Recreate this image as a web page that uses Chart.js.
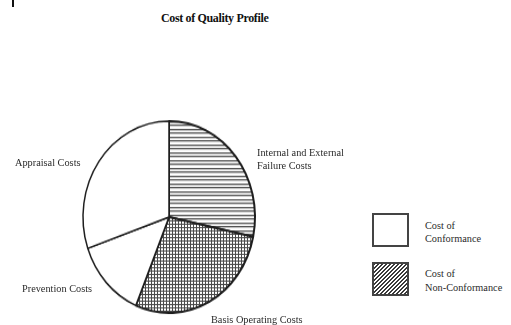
<!DOCTYPE html>
<html>
<head>
<meta charset="utf-8">
<script src="https://cdn.jsdelivr.net/npm/chart.js"></script>
<style>
    html, body { margin: 0; padding: 0; background: #fff; }
    #wrap { position: relative; width: 511px; height: 325px; overflow: hidden; background: #fff; font-family: 'Liberation Serif', 'Times New Roman', serif; color: #2b2b2b; }
    #pie { position: absolute; left: 79px; top: 127px; transform: scaleY(1.115); transform-origin: 50% 50%; }
    .lbl { position: absolute; font-size: 10.3px; line-height: 13px; white-space: nowrap; }
    #title { position: absolute; left: 161px; top: 11px; font-size: 12px; font-weight: bold; line-height: 14px; color: #111; letter-spacing: -0.35px; white-space: nowrap; }
    .box { position: absolute; left: 372px; width: 37px; height: 34px; box-sizing: border-box; border: 2px solid #444; background: #fff; }
    #box2 { background: repeating-linear-gradient(135deg, #3a3a3a 0 1.2px, #fff 1.2px 2.8px); }
    #mark { position: absolute; left: 12px; top: 0; width: 2px; height: 7px; background: #111; }
</style>
</head>
<body>
<div id="wrap">
    <div id="mark"></div>
    <div id="title"></div>
    <canvas id="pie" width="180" height="180"></canvas>
    <div class="lbl" id="lblInternal" style="left:257px; top:145.5px;"></div>
    <div class="lbl" id="lblBasis" style="left:211px; top:312.5px;"></div>
    <div class="lbl" id="lblPrevention" style="left:22px; top:281.5px;"></div>
    <div class="lbl" id="lblAppraisal" style="left:15px; top:155.5px;"></div>
    <div class="box" id="box1" style="top:213px;"></div>
    <div class="box" id="box2" style="top:262px;"></div>
    <div class="lbl" id="leg1" style="left:425px; top:218.5px;"></div>
    <div class="lbl" id="leg2" style="left:425px; top:266.5px; line-height:14px;"></div>
</div>
<script>
const chartTitle = 'Cost of Quality Profile';
// clockwise from 12 o'clock
const segmentLabels = ['Internal and External\nFailure Costs', 'Basis Operating Costs', 'Prevention Costs', 'Appraisal Costs'];
const segmentValues = [28.3, 28.0, 13.4, 30.3];
const legendLabels = ['Cost of\nConformance', 'Cost of\nNon-Conformance'];

document.getElementById('title').textContent = chartTitle;
const labelIds = ['lblInternal', 'lblBasis', 'lblPrevention', 'lblAppraisal'];
labelIds.forEach((id, i) => {
    document.getElementById(id).innerHTML = segmentLabels[i].replace('\n', '<br>');
});
document.getElementById('leg1').innerHTML = legendLabels[0].replace('\n', '<br>');
document.getElementById('leg2').innerHTML = legendLabels[1].replace('\n', '<br>');

function makePattern(kind) {
    const c = document.createElement('canvas');
    const g = c.getContext('2d');
    if (kind === 'lines') {
        c.width = 4;
        c.height = 7;
        g.fillStyle = '#fff';
        g.fillRect(0, 0, 4, 7);
        g.fillStyle = '#555';
        g.fillRect(0, 0, 4, 1.3);
        g.fillRect(0, 4, 4, 1.3);
    } else {
        c.width = 3;
        c.height = 3;
        g.fillStyle = '#fff';
        g.fillRect(0, 0, 3, 3);
        g.fillStyle = '#4a4a4a';
        g.fillRect(0, 0, 3, 1);
        g.fillRect(0, 0, 1, 3);
    }
    return g.createPattern(c, 'repeat');
}

const ctx = document.getElementById('pie');
new Chart(ctx, {
    type: 'pie',
    data: {
        labels: segmentLabels,
        datasets: [{
            data: segmentValues,
            backgroundColor: [makePattern('lines'), makePattern('grid'), '#fff', '#fff'],
            borderColor: '#1e1e1e',
            borderWidth: [2, 2, 1.5, 1.5]
        }]
    },
    options: {
        responsive: false,
        animation: false,
        radius: 86,
        layout: { padding: 0 },
        plugins: {
            legend: { display: false },
            tooltip: { enabled: false },
            title: { display: false }
        }
    }
});
</script>
</body>
</html>
